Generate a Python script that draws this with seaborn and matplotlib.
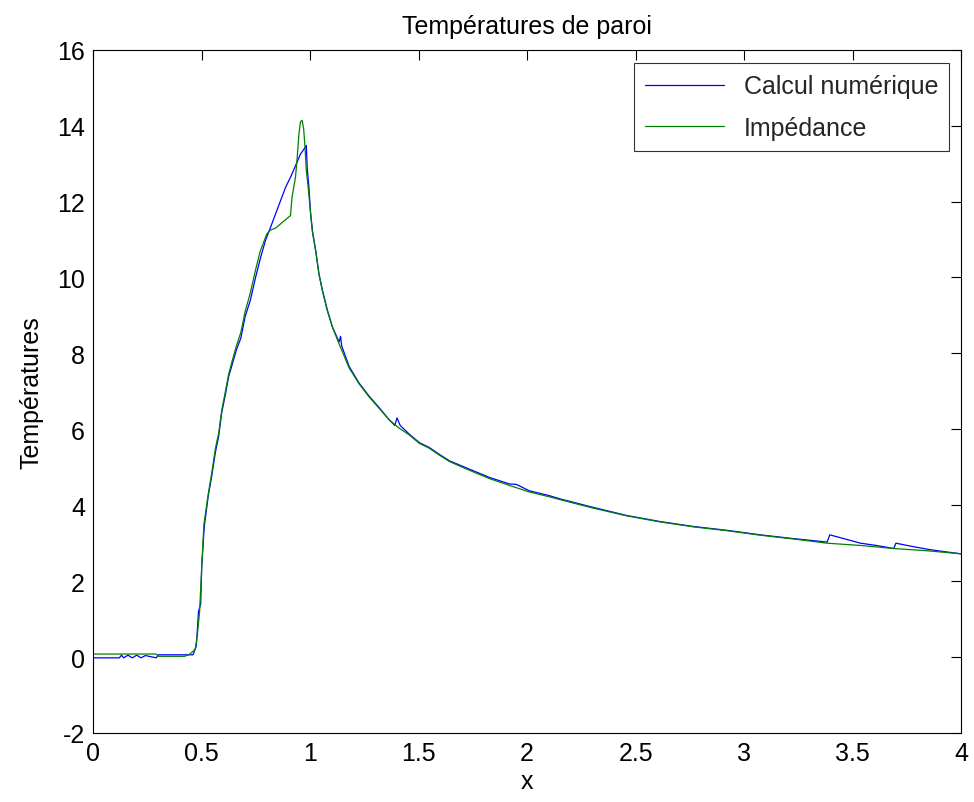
import numpy as np
import pandas as pd
import matplotlib
matplotlib.use("Agg")
import matplotlib.pyplot as plt
import seaborn as sns

# ---- data ----
x_num = [0, 0.12, 0.13, 0.14, 0.16, 0.18, 0.20, 0.22, 0.24, 0.29, 0.30, 0.46, 0.475, 0.485, 0.495, 0.50,
         0.51, 0.513, 0.53, 0.546, 0.563, 0.578, 0.592, 0.609, 0.624, 0.64, 0.66, 0.68, 0.70,
         0.724, 0.748, 0.77, 0.794, 0.817, 0.84, 0.863, 0.886, 0.909, 0.932, 0.955, 0.976,
         0.982, 0.986, 0.994, 1.002, 1.01, 1.025, 1.04, 1.056, 1.079, 1.102, 1.133, 1.14,
         1.145, 1.179, 1.225, 1.272, 1.318, 1.364, 1.39, 1.40, 1.415, 1.457, 1.503, 1.549,
         1.595, 1.642, 1.734, 1.827, 1.919, 1.95, 2.01, 2.104, 2.15, 2.30, 2.459, 2.613,
         2.767, 2.92, 3.075, 3.229, 3.383, 3.395, 3.46, 3.537, 3.61, 3.69, 3.70, 3.77,
         3.846, 3.907, 4.0]
y_num = [-0.02, -0.02, 0.05, -0.02, 0.05, -0.02, 0.05, -0.02, 0.04, -0.02, 0.06, 0.06, 0.3, 1.2, 1.4, 2.4,
         3.3, 3.5, 4.25, 4.77, 5.4, 5.82, 6.44, 6.92, 7.39, 7.7, 8.1, 8.4, 8.97,
         9.4, 10.0, 10.5, 10.98, 11.32, 11.67, 12.02, 12.37, 12.64, 12.94, 13.25, 13.42,
         13.48, 12.9, 12.37, 11.67, 11.24, 10.72, 10.1, 9.67, 9.14, 8.7, 8.3, 8.45,
         8.2, 7.66, 7.22, 6.87, 6.57, 6.25, 6.1, 6.3, 6.1, 5.87, 5.65, 5.52,
         5.34, 5.17, 4.95, 4.73, 4.56, 4.55, 4.38, 4.25, 4.17, 3.95, 3.73, 3.57,
         3.44, 3.34, 3.22, 3.12, 3.03, 3.22, 3.12, 3.0, 2.94, 2.86, 3.0, 2.92,
         2.84, 2.79, 2.72]

x_imp = [0, 0.29, 0.30, 0.42, 0.44, 0.47, 0.48, 0.49, 0.50, 0.51, 0.53, 0.546, 0.563, 0.578,
         0.592, 0.609, 0.624, 0.64, 0.66, 0.68, 0.70, 0.724, 0.748, 0.77, 0.80, 0.817, 0.84,
         0.909, 0.916, 0.932, 0.94, 0.948, 0.955, 0.963, 0.97, 0.976, 0.982, 0.99, 1.002,
         1.01, 1.025, 1.04, 1.056, 1.079, 1.102, 1.133, 1.179, 1.225, 1.272, 1.318, 1.364,
         1.41, 1.457, 1.503, 1.549, 1.595, 1.642, 1.734, 1.827, 1.919, 2.01, 2.104, 2.15,
         2.30, 2.459, 2.613, 2.767, 2.92, 3.075, 3.229, 3.383, 3.537, 3.69, 3.846, 4.0]
y_imp = [0.08, 0.08, 0.02, 0.02, 0.06, 0.2, 0.6, 1.2, 2.4, 3.5, 4.3, 4.85, 5.5, 5.9,
         6.5, 7.0, 7.45, 7.8, 8.2, 8.55, 9.1, 9.6, 10.2, 10.7, 11.15, 11.25, 11.3,
         11.63, 12.11, 12.64, 13.16, 13.78, 14.1, 14.14, 13.9, 13.42, 12.81, 12.4, 11.67,
         11.2, 10.7, 10.1, 9.65, 9.12, 8.7, 8.25, 7.62, 7.2, 6.85, 6.55, 6.25,
         6.03, 5.85, 5.63, 5.5, 5.32, 5.15, 4.92, 4.7, 4.52, 4.35, 4.22, 4.15,
         3.93, 3.72, 3.56, 3.43, 3.33, 3.21, 3.11, 3.0, 2.94, 2.86, 2.8, 2.72]

series_names = ["Calcul numérique", "Impédance"]
series_colors = ["#0000ff", "#008000"]
x_ticks = [0, 0.5, 1, 1.5, 2, 2.5, 3, 3.5, 4]
x_tick_labels = ["0", "0.5", "1", "1.5", "2", "2.5", "3", "3.5", "4"]
y_ticks = [-2, 0, 2, 4, 6, 8, 10, 12, 14, 16]

sns.set_style("white")
plt.rcParams["font.family"] = ["Liberation Sans", "DejaVu Sans"]
plt.rcParams["axes.unicode_minus"] = False
fs = 18

fig = plt.figure(figsize=(9.74, 8.03), dpi=100)
ax = fig.add_axes([93.3 / 974, 1 - 734 / 803, (961 - 93.3) / 974, (734 - 50.7) / 803])

for name, col, xs, ys in zip(series_names, series_colors, [x_num, x_imp], [y_num, y_imp]):
    sns.lineplot(x=np.array(xs), y=np.array(ys), sort=False, estimator=None,
                 color=col, linewidth=0.9, ax=ax, label=name)

ax.set_xlim(0, 4)
ax.set_ylim(-2, 16)
ax.set_xticks(x_ticks)
ax.set_xticklabels(x_tick_labels)
ax.set_yticks(y_ticks)
ax.tick_params(direction="in", length=7, width=0.8, top=True, right=True, labelsize=fs,
               color="black", labelcolor="black", pad=6)
for s in ax.spines.values():
    s.set_visible(True)
    s.set_color("black")
    s.set_linewidth(0.8)

ax.set_title("Températures de paroi", fontsize=fs, pad=12, color="black")
ax.set_xlabel("x", fontsize=fs, color="black", labelpad=3)
ax.set_ylabel("Températures", fontsize=fs, color="black", labelpad=10)

leg = ax.legend(loc="upper right", bbox_to_anchor=(0.9865, 0.9805), borderaxespad=0,
                fontsize=fs, frameon=True, fancybox=False, handlelength=3.15,
                handletextpad=0.8, borderpad=0.45, labelspacing=0.7)
leg.get_frame().set_edgecolor("black")
leg.get_frame().set_linewidth(0.8)

fig.savefig("out.png", dpi=100)
